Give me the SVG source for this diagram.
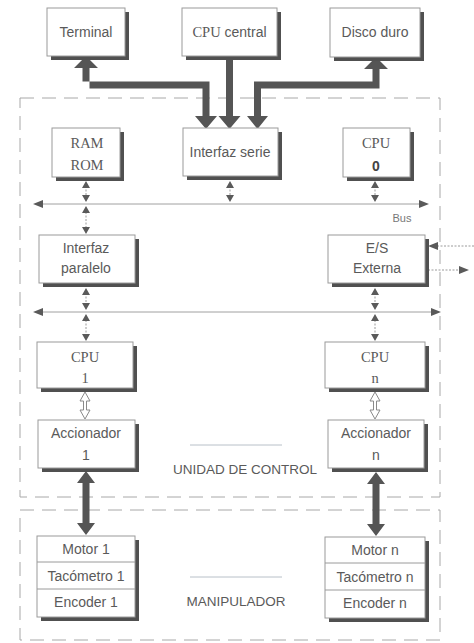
<svg xmlns="http://www.w3.org/2000/svg" width="474" height="643" viewBox="0 0 474 643">
<defs>
<style>
.bx{fill:#fff;stroke:#9a9a9a;stroke-width:1}
.sh{fill:#505050}
.t{font-family:"Liberation Sans",Arial,sans-serif;font-size:14px;fill:#5a5a5a;text-anchor:middle}
.s{font-family:"Liberation Serif","Times New Roman",serif;font-size:14.5px;fill:#5a5a5a;text-anchor:middle}
.dash{fill:none;stroke:#a8a8a8;stroke-width:1;stroke-dasharray:14 8}
.thick{fill:#555}
.bus{stroke:#a0a0a0;stroke-width:1;fill:none}
.thin{stroke:#9a9a9a;stroke-width:1;stroke-dasharray:2 1.5;fill:none}
.tri{fill:#5a5a5a}
.hol{fill:#fff;stroke:#8a8a8a;stroke-width:1}
.rule{stroke:#b8c0c8;stroke-width:1}
</style>
</defs>

<!-- region boxes -->
<g id="unidad-control">
<rect class="dash" x="20" y="98" width="420" height="399"/>
<line class="rule" x1="190" y1="445" x2="282" y2="445"/>
<text class="t" x="245" y="474" style="font-size:13.5px">UNIDAD DE CONTROL</text>
</g>
<g id="manipulador">
<rect class="dash" x="20" y="510" width="420" height="130"/>
<line class="rule" x1="190" y1="577" x2="282" y2="577"/>
<text class="t" x="236" y="606" style="font-size:13.5px">MANIPULADOR</text>
</g>

<!-- connectors -->
<g id="connectors">
<!-- thick arrows top -->
<path class="thick" d="M202.5,116 L202.5,88.5 L89.5,88.5 L89.5,68 L98,68 L86,56 L74,68 L82.5,68 L82.5,81.5 L209.5,81.5 L209.5,116 L217,116 L206,129 L195,116 Z"/>
<path class="thick" d="M226,57 L233,57 L233,116 L240.5,116 L229.5,129 L218.5,116 L226,116 Z"/>
<path class="thick" d="M254,116 L254,81.5 L372.5,81.5 L372.5,69 L364,69 L376,57 L388,69 L379.5,69 L379.5,88.5 L261,88.5 L261,116 L268,116 L257.5,129 L247,116 Z"/>

<!-- buses -->
<line class="bus" x1="36" y1="204" x2="426" y2="204"/>
<path class="tri" d="M33,204L43,200L43,208z"/>
<path class="tri" d="M429,204L419,200L419,208z"/>
<text class="t" x="402" y="222" style="font-size:11px;fill:#777">Bus</text>
<line class="bus" x1="36" y1="312" x2="438" y2="312"/>
<path class="tri" d="M33,312L43,308L43,316z"/>
<path class="tri" d="M441,312L431,308L431,316z"/>

<!-- small double arrows -->
<g>
<line class="thin" x1="86" y1="186" x2="86" y2="197"/>
<path class="tri" d="M86,181L90,188L82,188z M86,202L90,195L82,195z"/>
<line class="thin" x1="86" y1="212" x2="86" y2="227"/>
<path class="tri" d="M86,206L90,213L82,213z M86,234L90,227L82,227z"/>
<line class="thin" x1="230" y1="186" x2="230" y2="197"/>
<path class="tri" d="M230,181L234,188L226,188z M230,202L234,195L226,195z"/>
<line class="thin" x1="375" y1="186" x2="375" y2="197"/>
<path class="tri" d="M375,181L379,188L371,188z M375,202L379,195L371,195z"/>

<line class="thin" x1="86" y1="293" x2="86" y2="304"/>
<path class="tri" d="M86,288L90,295L82,295z M86,310L90,303L82,303z"/>
<line class="thin" x1="86" y1="320" x2="86" y2="334"/>
<path class="tri" d="M86,314L90,321L82,321z M86,341L90,334L82,334z"/>
<line class="thin" x1="375" y1="293" x2="375" y2="304"/>
<path class="tri" d="M375,288L379,295L371,295z M375,310L379,303L371,303z"/>
<line class="thin" x1="375" y1="320" x2="375" y2="334"/>
<path class="tri" d="M375,314L379,321L371,321z M375,341L379,334L371,334z"/>
</g>

<!-- E/S external -->
<line class="thin" x1="474" y1="246" x2="436" y2="246"/>
<path class="tri" d="M428,246L438,242L438,250z"/>
<line class="thin" x1="428" y1="270" x2="460" y2="270"/>
<path class="tri" d="M469,270L459,266L459,274z"/>

<!-- hollow arrows -->
<path class="hol" d="M85,392L90,401L86.5,401L86.5,410L90,410L85,419L80,410L83.5,410L83.5,401L80,401Z"/>
<path class="hol" d="M375,392L380,401L376.5,401L376.5,410L380,410L375,419L370,410L373.5,410L373.5,401L370,401Z"/>

<!-- thick double arrows -->
<path class="thick" d="M86,471L95,483L89.5,483L89.5,523L95,523L86,535L77,523L82.5,523L82.5,483L77,483Z"/>
<path class="thick" d="M376,472L385,484L379.5,484L379.5,524L385,524L376,536L367,524L372.5,524L372.5,484L367,484Z"/>
</g>

<!-- nodes -->
<g id="terminal">
<rect class="sh" x="51" y="12" width="78" height="48"/>
<rect class="bx" x="47" y="8" width="78" height="48"/>
<text class="t" x="86" y="37">Terminal</text>
</g>
<g id="cpu-central">
<rect class="sh" x="186" y="12" width="95" height="48"/>
<rect class="bx" x="182" y="8" width="95" height="48"/>
<text class="t" x="229.5" y="37"><tspan style="font-family:'Liberation Serif',serif;font-size:14.5px">CPU</tspan> central</text>
</g>
<g id="disco-duro">
<rect class="sh" x="334" y="12" width="90" height="49"/>
<rect class="bx" x="330" y="8" width="90" height="49"/>
<text class="t" x="375" y="37">Disco duro</text>
</g>
<g id="ram-rom">
<rect class="sh" x="56" y="132" width="68" height="49"/>
<rect class="bx" x="52" y="128" width="68" height="49"/>
<text class="s" x="87" y="148">RAM</text>
<text class="s" x="87" y="170">ROM</text>
</g>
<g id="interfaz-serie">
<rect class="sh" x="187" y="132" width="95" height="48"/>
<rect class="bx" x="183" y="128" width="95" height="48"/>
<text class="t" x="230" y="157">Interfaz serie</text>
</g>
<g id="cpu-0">
<rect class="sh" x="347" y="132" width="67" height="49"/>
<rect class="bx" x="343" y="128" width="67" height="49"/>
<text class="s" x="376" y="148">CPU</text>
<text class="t" x="376" y="171" style="font-weight:bold;fill:#444">0</text>
</g>
<g id="interfaz-paralelo">
<rect class="sh" x="43" y="239" width="96" height="48"/>
<rect class="bx" x="39" y="235" width="96" height="48"/>
<text class="t" x="86" y="253">Interfaz</text>
<text class="t" x="86" y="273">paralelo</text>
</g>
<g id="es-externa">
<rect class="sh" x="332" y="239" width="97" height="48"/>
<rect class="bx" x="328" y="235" width="97" height="48"/>
<text class="t" x="377" y="253">E/S</text>
<text class="t" x="377" y="273">Externa</text>
</g>
<g id="cpu-1">
<rect class="sh" x="41" y="346" width="96" height="46"/>
<rect class="bx" x="37" y="342" width="96" height="46"/>
<text class="s" x="85" y="362">CPU</text>
<text class="s" x="85" y="383">1</text>
</g>
<g id="cpu-n">
<rect class="sh" x="329" y="346" width="100" height="46"/>
<rect class="bx" x="325" y="342" width="100" height="46"/>
<text class="s" x="375" y="362">CPU</text>
<text class="s" x="375" y="383">n</text>
</g>
<g id="accionador-1">
<rect class="sh" x="42" y="424" width="97" height="48"/>
<rect class="bx" x="38" y="420" width="97" height="48"/>
<text class="t" x="86" y="438">Accionador</text>
<text class="t" x="86" y="460">1</text>
</g>
<g id="accionador-n">
<rect class="sh" x="332" y="424" width="96" height="48"/>
<rect class="bx" x="328" y="420" width="96" height="48"/>
<text class="t" x="376" y="438">Accionador</text>
<text class="t" x="376" y="460">n</text>
</g>
<g id="motor-1">
<rect class="sh" x="41" y="540" width="98" height="81"/>
<rect class="bx" x="37" y="536" width="98" height="81"/>
<line class="bx" x1="37" y1="562" x2="135" y2="562"/>
<line class="bx" x1="37" y1="589" x2="135" y2="589"/>
<text class="t" x="86" y="554">Motor 1</text>
<text class="t" x="86" y="581">Tacómetro 1</text>
<text class="t" x="86" y="607">Encoder 1</text>
</g>
<g id="motor-n">
<rect class="sh" x="329" y="541" width="100" height="81"/>
<rect class="bx" x="325" y="537" width="100" height="81"/>
<line class="bx" x1="325" y1="563" x2="425" y2="563"/>
<line class="bx" x1="325" y1="590" x2="425" y2="590"/>
<text class="t" x="375" y="555">Motor n</text>
<text class="t" x="375" y="582">Tacómetro n</text>
<text class="t" x="375" y="608">Encoder n</text>
</g>
</svg>
